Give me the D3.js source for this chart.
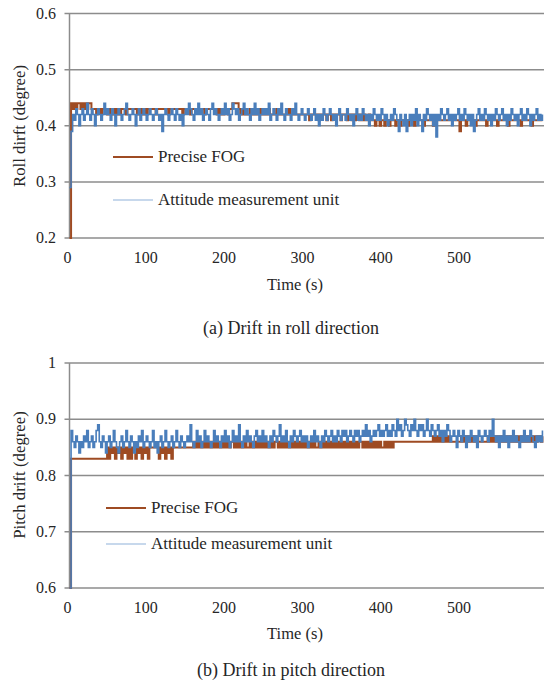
<!DOCTYPE html>
<html>
<head>
<meta charset="utf-8">
<script src="https://cdn.jsdelivr.net/npm/d3@7"></script>
<style>
  body { margin: 0; background: #fff; }
  svg { display: block; }
  text { font-family: "Liberation Serif", "Times New Roman", serif; fill: #262626; }
</style>
</head>
<body>
<div id="chart"></div>
<script>
// sampling step of the recorded series (seconds)
var sampleStep = 2;
var timeTicks = [0, 100, 200, 300, 400, 500];
var rollTicks = [0.2, 0.3, 0.4, 0.5, 0.6];
var pitchTicks = [0.6, 0.7, 0.8, 0.9, 1];
var seriesNames = ["Precise FOG", "Attitude measurement unit"];

var rollAMU = [
  0.29, 0.39, 0.42, 0.41, 0.43, 0.42, 0.40, 0.42, 0.43, 0.41, 0.42, 0.44, 0.42, 0.41, 0.43, 0.42, 0.40, 0.42, 0.43, 0.42, 0.41, 0.42, 0.44, 0.42, 0.43,
  0.42, 0.41, 0.43, 0.42, 0.40, 0.42, 0.43, 0.42, 0.41, 0.42, 0.43, 0.44, 0.42, 0.41, 0.42, 0.43, 0.42, 0.40, 0.42, 0.43, 0.41, 0.42, 0.43, 0.42, 0.41,
  0.42, 0.43, 0.42, 0.41, 0.42, 0.43, 0.42, 0.41, 0.42, 0.39, 0.42, 0.43, 0.42, 0.41, 0.42, 0.43, 0.42, 0.41, 0.43, 0.42, 0.41, 0.42, 0.40, 0.42, 0.43,
  0.42, 0.44, 0.43, 0.42, 0.41, 0.43, 0.42, 0.44, 0.42, 0.43, 0.41, 0.42, 0.43, 0.42, 0.41, 0.43, 0.44, 0.42, 0.43, 0.42, 0.41, 0.42, 0.43, 0.42, 0.44,
  0.42, 0.43, 0.41, 0.42, 0.44, 0.43, 0.42, 0.43, 0.41, 0.42, 0.43, 0.44, 0.42, 0.43, 0.42, 0.41, 0.43, 0.42, 0.44, 0.42, 0.43, 0.41, 0.42, 0.43, 0.42,
  0.43, 0.42, 0.44, 0.41, 0.42, 0.43, 0.42, 0.41, 0.43, 0.42, 0.44, 0.42, 0.41, 0.43, 0.42, 0.42, 0.41, 0.43, 0.42, 0.44, 0.42, 0.41, 0.42, 0.43, 0.42,
  0.41, 0.42, 0.43, 0.42, 0.41, 0.42, 0.43, 0.41, 0.42, 0.40, 0.42, 0.41, 0.43, 0.42, 0.41, 0.42, 0.43, 0.42, 0.41, 0.42, 0.40, 0.42, 0.43, 0.41, 0.42,
  0.42, 0.41, 0.43, 0.42, 0.41, 0.42, 0.40, 0.42, 0.43, 0.41, 0.42, 0.41, 0.43, 0.42, 0.41, 0.42, 0.40, 0.42, 0.41, 0.43, 0.42, 0.41, 0.42, 0.41, 0.43,
  0.42, 0.41, 0.42, 0.40, 0.41, 0.42, 0.41, 0.43, 0.42, 0.41, 0.39, 0.42, 0.41, 0.40, 0.42, 0.39, 0.41, 0.42, 0.40, 0.42, 0.41, 0.43, 0.40, 0.42, 0.41,
  0.39, 0.42, 0.41, 0.43, 0.42, 0.41, 0.42, 0.40, 0.42, 0.38, 0.42, 0.41, 0.43, 0.42, 0.41, 0.42, 0.43, 0.41, 0.42, 0.40, 0.42, 0.41, 0.42, 0.43, 0.41,
  0.42, 0.41, 0.43, 0.42, 0.41, 0.42, 0.40, 0.42, 0.39, 0.41, 0.42, 0.43, 0.41, 0.42, 0.41, 0.43, 0.42, 0.41, 0.42, 0.40, 0.42, 0.41, 0.43, 0.42, 0.41,
  0.42, 0.43, 0.41, 0.42, 0.40, 0.42, 0.41, 0.43, 0.42, 0.41, 0.42, 0.40, 0.42, 0.43, 0.41, 0.42, 0.41, 0.43, 0.42, 0.40, 0.42, 0.41, 0.42, 0.43, 0.41,
  0.42, 0.41, 0.42
];

var rollFOG = [
  0.20, 0.44, 0.43, 0.44, 0.43, 0.44, 0.44, 0.43, 0.44, 0.43, 0.44, 0.43, 0.44, 0.44, 0.43, 0.43, 0.43, 0.42, 0.43, 0.43, 0.42, 0.43, 0.43, 0.43, 0.42,
  0.43, 0.42, 0.43, 0.42, 0.43, 0.42, 0.43, 0.42, 0.43, 0.43, 0.43, 0.42, 0.43, 0.43, 0.43, 0.43, 0.43, 0.43, 0.42, 0.43, 0.42, 0.43, 0.42, 0.43, 0.42,
  0.43, 0.43, 0.43, 0.43, 0.43, 0.42, 0.43, 0.43, 0.43, 0.43, 0.43, 0.43, 0.43, 0.42, 0.43, 0.43, 0.43, 0.43, 0.43, 0.43, 0.43, 0.43, 0.42, 0.43, 0.43,
  0.43, 0.43, 0.42, 0.43, 0.43, 0.43, 0.43, 0.43, 0.43, 0.43, 0.43, 0.42, 0.43, 0.43, 0.43, 0.43, 0.43, 0.43, 0.43, 0.42, 0.43, 0.42, 0.43, 0.42, 0.43,
  0.43, 0.42, 0.43, 0.43, 0.44, 0.44, 0.44, 0.44, 0.43, 0.42, 0.43, 0.42, 0.43, 0.42, 0.42, 0.43, 0.42, 0.43, 0.42, 0.42, 0.43, 0.42, 0.43, 0.42, 0.42,
  0.42, 0.42, 0.43, 0.42, 0.42, 0.42, 0.42, 0.43, 0.42, 0.42, 0.42, 0.42, 0.42, 0.42, 0.42, 0.43, 0.42, 0.42, 0.42, 0.42, 0.42, 0.42, 0.42, 0.42, 0.42,
  0.42, 0.42, 0.42, 0.41, 0.42, 0.42, 0.42, 0.42, 0.42, 0.41, 0.42, 0.42, 0.42, 0.42, 0.41, 0.42, 0.42, 0.41, 0.42, 0.42, 0.42, 0.42, 0.42, 0.41, 0.42,
  0.42, 0.42, 0.41, 0.42, 0.42, 0.41, 0.42, 0.41, 0.42, 0.42, 0.41, 0.42, 0.41, 0.42, 0.41, 0.41, 0.42, 0.41, 0.41, 0.41, 0.40, 0.41, 0.41, 0.40, 0.41,
  0.41, 0.40, 0.41, 0.41, 0.40, 0.41, 0.41, 0.41, 0.40, 0.41, 0.41, 0.40, 0.41, 0.41, 0.41, 0.41, 0.40, 0.41, 0.41, 0.41, 0.40, 0.41, 0.41, 0.41, 0.41,
  0.41, 0.40, 0.41, 0.41, 0.41, 0.41, 0.41, 0.40, 0.41, 0.41, 0.41, 0.41, 0.41, 0.41, 0.41, 0.41, 0.41, 0.41, 0.41, 0.41, 0.41, 0.41, 0.41, 0.41, 0.39,
  0.41, 0.41, 0.41, 0.40, 0.41, 0.41, 0.41, 0.41, 0.41, 0.40, 0.41, 0.41, 0.41, 0.41, 0.41, 0.41, 0.40, 0.41, 0.41, 0.41, 0.41, 0.41, 0.41, 0.40, 0.41,
  0.41, 0.41, 0.41, 0.41, 0.41, 0.40, 0.41, 0.41, 0.41, 0.41, 0.41, 0.41, 0.41, 0.40, 0.41, 0.41, 0.41, 0.41, 0.41, 0.41, 0.40, 0.41, 0.41, 0.41, 0.41,
  0.41, 0.41, 0.41
];

var pitchAMU = [
  0.60, 0.88, 0.86, 0.85, 0.87, 0.86, 0.84, 0.86, 0.85, 0.87, 0.86, 0.88, 0.85, 0.86, 0.87, 0.85, 0.86, 0.88, 0.89, 0.86, 0.85, 0.87, 0.86, 0.84, 0.86,
  0.87, 0.85, 0.86, 0.88, 0.86, 0.85, 0.84, 0.86, 0.87, 0.85, 0.86, 0.88, 0.86, 0.85, 0.87, 0.86, 0.84, 0.86, 0.85, 0.87, 0.86, 0.88, 0.85, 0.86, 0.87,
  0.86, 0.85, 0.86, 0.88, 0.85, 0.86, 0.84, 0.86, 0.87, 0.85, 0.86, 0.88, 0.86, 0.85, 0.86, 0.87, 0.85, 0.86, 0.88, 0.86, 0.85, 0.87, 0.86, 0.85, 0.86,
  0.87, 0.86, 0.89, 0.86, 0.85, 0.86, 0.88, 0.86, 0.87, 0.85, 0.86, 0.88, 0.86, 0.87, 0.86, 0.85, 0.86, 0.88, 0.86, 0.87, 0.86, 0.85, 0.87, 0.86, 0.88,
  0.86, 0.87, 0.85, 0.86, 0.88, 0.86, 0.87, 0.86, 0.89, 0.86, 0.85, 0.87, 0.86, 0.88, 0.86, 0.87, 0.86, 0.85, 0.87, 0.88, 0.86, 0.87, 0.86, 0.88, 0.86,
  0.87, 0.86, 0.85, 0.87, 0.86, 0.88, 0.87, 0.86, 0.87, 0.89, 0.86, 0.87, 0.86, 0.88, 0.86, 0.85, 0.87, 0.86, 0.88, 0.87, 0.86, 0.87, 0.88, 0.86, 0.87,
  0.86, 0.87, 0.85, 0.86, 0.87, 0.86, 0.88, 0.86, 0.87, 0.86, 0.85, 0.87, 0.86, 0.88, 0.87, 0.86, 0.87, 0.88, 0.86, 0.87, 0.86, 0.88, 0.87, 0.86, 0.88,
  0.87, 0.88, 0.86, 0.87, 0.88, 0.87, 0.86, 0.88, 0.87, 0.88, 0.86, 0.87, 0.88, 0.87, 0.89, 0.87, 0.88, 0.86, 0.87, 0.88, 0.87, 0.88, 0.89, 0.87, 0.88,
  0.87, 0.88, 0.89, 0.87, 0.88, 0.87, 0.89, 0.88, 0.87, 0.90, 0.88, 0.89, 0.87, 0.88, 0.90, 0.89, 0.88, 0.87, 0.89, 0.88, 0.90, 0.88, 0.87, 0.89, 0.88,
  0.89, 0.87, 0.88, 0.90, 0.88, 0.87, 0.89, 0.88, 0.87, 0.88, 0.89, 0.87, 0.88, 0.86, 0.88, 0.87, 0.89, 0.88, 0.86, 0.87, 0.88, 0.87, 0.85, 0.88, 0.87,
  0.86, 0.88, 0.87, 0.85, 0.87, 0.86, 0.88, 0.87, 0.86, 0.87, 0.85, 0.88, 0.87, 0.86, 0.87, 0.88, 0.87, 0.86, 0.88, 0.87, 0.90, 0.87, 0.86, 0.87, 0.85,
  0.87, 0.86, 0.88, 0.86, 0.87, 0.85, 0.87, 0.86, 0.88, 0.86, 0.87, 0.86, 0.85, 0.87, 0.86, 0.88, 0.86, 0.87, 0.86, 0.88, 0.87, 0.86, 0.85, 0.87, 0.86,
  0.87, 0.86, 0.88
];

var pitchFOG = [
  0.60, 0.83, 0.83, 0.83, 0.83, 0.83, 0.83, 0.83, 0.83, 0.83, 0.83, 0.83, 0.83, 0.83, 0.83, 0.83, 0.83, 0.83, 0.83, 0.83, 0.83, 0.83, 0.83, 0.83, 0.85,
  0.83, 0.85, 0.84, 0.85, 0.83, 0.85, 0.84, 0.85, 0.83, 0.85, 0.84, 0.85, 0.83, 0.85, 0.83, 0.85, 0.85, 0.83, 0.85, 0.84, 0.85, 0.83, 0.85, 0.84, 0.85,
  0.83, 0.85, 0.85, 0.85, 0.85, 0.85, 0.85, 0.83, 0.85, 0.84, 0.85, 0.83, 0.85, 0.84, 0.85, 0.83, 0.85, 0.85, 0.85, 0.85, 0.85, 0.85, 0.85, 0.85, 0.85,
  0.85, 0.85, 0.85, 0.85, 0.86, 0.85, 0.86, 0.85, 0.86, 0.85, 0.86, 0.85, 0.86, 0.85, 0.86, 0.85, 0.86, 0.85, 0.86, 0.85, 0.86, 0.85, 0.86, 0.85, 0.86,
  0.85, 0.86, 0.85, 0.86, 0.86, 0.85, 0.86, 0.85, 0.86, 0.85, 0.86, 0.85, 0.86, 0.85, 0.85, 0.86, 0.85, 0.86, 0.85, 0.86, 0.85, 0.86, 0.85, 0.86, 0.85,
  0.86, 0.85, 0.86, 0.85, 0.86, 0.85, 0.86, 0.86, 0.85, 0.86, 0.85, 0.86, 0.85, 0.86, 0.85, 0.86, 0.85, 0.86, 0.85, 0.86, 0.85, 0.86, 0.85, 0.86, 0.85,
  0.86, 0.85, 0.86, 0.85, 0.86, 0.85, 0.86, 0.85, 0.85, 0.86, 0.85, 0.86, 0.85, 0.86, 0.85, 0.86, 0.85, 0.86, 0.85, 0.86, 0.85, 0.86, 0.85, 0.86, 0.85,
  0.86, 0.85, 0.86, 0.85, 0.86, 0.85, 0.86, 0.85, 0.86, 0.85, 0.86, 0.86, 0.85, 0.86, 0.85, 0.86, 0.85, 0.86, 0.85, 0.86, 0.85, 0.86, 0.85, 0.86, 0.85,
  0.85, 0.86, 0.85, 0.86, 0.85, 0.86, 0.85, 0.86, 0.86, 0.86, 0.86, 0.86, 0.86, 0.86, 0.86, 0.86, 0.86, 0.86, 0.86, 0.86, 0.86, 0.86, 0.86, 0.86, 0.86,
  0.86, 0.86, 0.86, 0.86, 0.86, 0.86, 0.86, 0.87, 0.86, 0.87, 0.86, 0.87, 0.86, 0.87, 0.86, 0.87, 0.86, 0.87, 0.86, 0.86, 0.86, 0.86, 0.86, 0.86, 0.86,
  0.87, 0.86, 0.87, 0.86, 0.87, 0.86, 0.87, 0.86, 0.87, 0.86, 0.87, 0.86, 0.86, 0.86, 0.86, 0.86, 0.86, 0.87, 0.86, 0.87, 0.86, 0.87, 0.86, 0.87, 0.86,
  0.87, 0.86, 0.87, 0.86, 0.87, 0.86, 0.87, 0.86, 0.87, 0.86, 0.87, 0.86, 0.87, 0.86, 0.87, 0.86, 0.87, 0.86, 0.87, 0.86, 0.87, 0.86, 0.87, 0.86, 0.87,
  0.87, 0.86, 0.87
];

var width = 544, height = 692;
var fogColor = "#9E4B23";
var amuColor = "#4A7EBB";
var gridColor = "#8C8C8C";

var svg = d3.select("#chart").append("svg")
    .attr("width", width)
    .attr("height", height);

var x = d3.scaleLinear().domain([0, 606]).range([69.5, 544]);

function drawPanel(cfg) {
    var y = d3.scaleLinear().domain(cfg.domain).range(cfg.range);
    var g = svg.append("g");

    // horizontal gridlines with small outward tick
    g.selectAll("line.grid")
        .data(cfg.ticks)
        .enter()
        .append("line")
        .attr("class", "grid")
        .attr("x1", x.range()[0] - 5)
        .attr("x2", width)
        .attr("y1", function(d) { return y(d); })
        .attr("y2", function(d) { return y(d); })
        .style("stroke", gridColor)
        .style("stroke-width", 1.5);

    // vertical axis line
    g.append("line")
        .attr("x1", x(0)).attr("x2", x(0))
        .attr("y1", y(cfg.domain[1])).attr("y2", y(cfg.domain[0]))
        .style("stroke", gridColor)
        .style("stroke-width", 1.5);

    g.selectAll("text.ytick")
        .data(cfg.ticks)
        .enter()
        .append("text")
        .attr("class", "ytick")
        .attr("x", 56)
        .attr("y", function(d) { return y(d) + 5; })
        .attr("text-anchor", "end")
        .style("font-size", "16px")
        .text(function(d) { return d === 1 ? "1" : d3.format(".1f")(d); });

    g.selectAll("text.xtick")
        .data(timeTicks)
        .enter()
        .append("text")
        .attr("class", "xtick")
        .attr("x", function(d) { return x(d) - 2; })
        .attr("y", cfg.xTickY)
        .attr("text-anchor", "middle")
        .style("font-size", "16px")
        .text(function(d) { return d; });

    g.append("text")
        .attr("x", 295)
        .attr("y", cfg.xTitleY)
        .attr("text-anchor", "middle")
        .style("font-size", "16.5px")
        .text("Time (s)");

    g.append("text")
        .attr("transform", "translate(25," + cfg.yTitleMid + ") rotate(-90)")
        .attr("text-anchor", "middle")
        .style("font-size", "16.8px")
        .text(cfg.yTitle);

    g.append("text")
        .attr("x", 291)
        .attr("y", cfg.captionY)
        .attr("text-anchor", "middle")
        .style("font-size", "18px")
        .text(cfg.caption);

    // dense recordings look like vertical jumps, so draw them as steps
    var line = d3.line()
        .curve(d3.curveStepAfter)
        .x(function(d, i) { return x(i * sampleStep); })
        .y(function(d) { return y(d); });

    g.append("path")
        .datum(cfg.fog)
        .attr("d", line)
        .style("fill", "none")
        .style("stroke", fogColor)
        .style("stroke-width", 2);

    g.append("path")
        .datum(cfg.amu)
        .attr("d", line)
        .style("fill", "none")
        .style("stroke", amuColor)
        .style("stroke-width", 1.6);

    // legend
    var lg = g.append("g");
    var legendColors = [fogColor, "#B4CBE6"];
    var legendWidths = [2.2, 1.5];
    seriesNames.forEach(function(name, i) {
        var ly = cfg.legendY[i];
        lg.append("line")
            .attr("x1", cfg.legendX).attr("x2", cfg.legendX + 40)
            .attr("y1", ly).attr("y2", ly)
            .style("stroke", legendColors[i])
            .style("stroke-width", legendWidths[i]);
        lg.append("text")
            .attr("x", cfg.legendX + 45)
            .attr("y", ly + 5)
            .style("font-size", "17px")
            .text(name);
    });
}

drawPanel({
    domain: [0.2, 0.6], range: [238, 13.5], ticks: rollTicks,
    fog: rollFOG, amu: rollAMU,
    xTickY: 263, xTitleY: 290, captionY: 334,
    yTitle: "Roll dirft (degree)", yTitleMid: 126,
    caption: "(a) Drift in roll direction",
    legendX: 113, legendY: [157, 200]
});

drawPanel({
    domain: [0.6, 1.0], range: [588, 363], ticks: pitchTicks,
    fog: pitchFOG, amu: pitchAMU,
    xTickY: 613, xTitleY: 639, captionY: 676,
    yTitle: "Pitch drift (degree)", yTitleMid: 475,
    caption: "(b) Drift in pitch direction",
    legendX: 106, legendY: [508, 544]
});
</script>
</body>
</html>
